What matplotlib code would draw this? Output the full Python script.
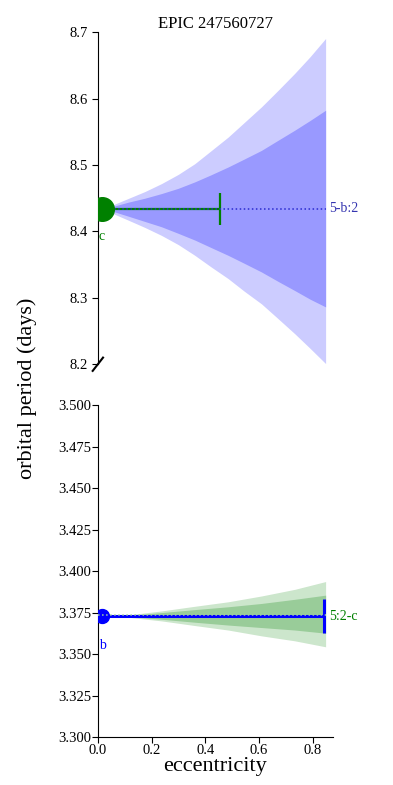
import matplotlib
matplotlib.use("Agg")
import matplotlib.pyplot as plt
import numpy as np

plt.rcParams["font.family"] = ["Liberation Serif", "DejaVu Serif"]

# outer planet c (top panel): period band
ecc_c = [0.0, 0.05, 0.113, 0.175, 0.237, 0.3, 0.361, 0.42, 0.485, 0.545,
         0.609, 0.67, 0.733, 0.79, 0.848]
c_outer_hi = [8.434, 8.439, 8.4496, 8.460, 8.472, 8.486, 8.502, 8.521, 8.542,
              8.564, 8.5875, 8.612, 8.638, 8.663, 8.6905]
c_inner_hi = [8.434, 8.437, 8.444, 8.450, 8.457, 8.465, 8.4746, 8.485, 8.497,
              8.509, 8.522, 8.537, 8.5524, 8.567, 8.5825]
c_inner_lo = [8.434, 8.431, 8.423, 8.415, 8.407, 8.397, 8.387, 8.376, 8.364,
              8.352, 8.339, 8.325, 8.311, 8.298, 8.2863]
c_outer_lo = [8.434, 8.428, 8.417, 8.406, 8.394, 8.380, 8.364, 8.347, 8.329,
              8.310, 8.291, 8.269, 8.246, 8.224, 8.201]
period_c = 8.434
ecc_c_max = 0.454
ecc_pt = 0.015

# inner planet b (bottom panel)
ecc_b = [0.0, 0.113, 0.237, 0.361, 0.485, 0.609, 0.733, 0.848]
b_outer_hi = [3.3729, 3.3736, 3.3760, 3.3788, 3.3815, 3.3850, 3.3890, 3.3937]
b_inner_hi = [3.3729, 3.3732, 3.3750, 3.3768, 3.3785, 3.3805, 3.3830, 3.3855]
b_inner_lo = [3.3729, 3.3726, 3.3710, 3.3692, 3.3675, 3.3660, 3.3645, 3.3626]
b_outer_lo = [3.3729, 3.3722, 3.3700, 3.3672, 3.3645, 3.3610, 3.3580, 3.3544]
period_b = 3.3729
ecc_b_max = 0.841

fig = plt.figure(figsize=(3.93, 7.85), dpi=100)
ax1 = fig.add_axes([0.249, 0.536, 0.598, 0.423])
ax2 = fig.add_axes([0.249, 0.061, 0.598, 0.423])

# --- top panel
ax1.fill_between(ecc_c, c_outer_lo, c_outer_hi, color="#ccccff", lw=0)
ax1.fill_between(ecc_c, c_inner_lo, c_inner_hi, color="#9999ff", lw=0)
eb = ax1.errorbar([0], [period_c], xerr=[[0], [ecc_c_max]], color="green",
                  lw=1.6, capsize=11.5, capthick=1.6)
eb[1][0].set_visible(False)
ax1.plot([ecc_pt], [period_c], "o", color="green", ms=17, zorder=5)
ax1.plot([0, ecc_c[-1]], [period_c - 0.0008] * 2, ls=":", color="#2a2ad0", lw=1.1)
ax1.text(ecc_c[-1] + 0.012, period_c, "5-b:2", color="#3535b0", fontsize=10,
         va="center", ha="left")
ax1.text(0.003, 8.392, "c", color="green", fontsize=10, va="center", ha="left")
ax1.set_xlim(0, 0.875)
ax1.set_ylim(8.2, 8.7)
ax1.set_yticks([8.2, 8.3, 8.4, 8.5, 8.6, 8.7])
ax1.set_yticklabels(["8.2", "8.3", "8.4", "8.5", "8.6", "8.7"])
ax1.set_xticks([])
for s in ["top", "right", "bottom"]:
    ax1.spines[s].set_visible(False)
ax1.tick_params(axis="y", direction="out", length=4, labelsize=10.5)
ax1.plot([-0.022, 0.022], [-0.02, 0.02], transform=ax1.transAxes,
         color="k", lw=1.5, clip_on=False)
ax1.set_title("EPIC 247560727", fontsize=12, pad=1)

# --- bottom panel
ax2.fill_between(ecc_b, b_outer_lo, b_outer_hi, color="#cce6cc", lw=0)
ax2.fill_between(ecc_b, b_inner_lo, b_inner_hi, color="#99cc99", lw=0)
eb = ax2.errorbar([0], [period_b], xerr=[[0], [ecc_b_max]], color="blue",
                  lw=2.2, capsize=12, capthick=2.2)
eb[1][0].set_visible(False)
ax2.plot([ecc_pt], [period_b], "o", color="blue", ms=10, zorder=5)
ax2.plot([0, ecc_b[-1]], [period_b + 0.0007] * 2, ls=":", color="#9fd09f", lw=1.1,
         zorder=6)
ax2.text(ecc_b[-1] + 0.012, period_b, "5:2-c", color="green", fontsize=10,
         va="center", ha="left")
ax2.text(0.005, 3.3554, "b", color="blue", fontsize=10, va="center", ha="left")
ax2.set_xlim(0, 0.875)
ax2.set_ylim(3.3, 3.5)
ax2.set_yticks(np.arange(3.3, 3.5001, 0.025))
ax2.set_yticklabels(["%.3f" % v for v in np.arange(3.3, 3.5001, 0.025)])
ax2.set_xticks([0.0, 0.2, 0.4, 0.6, 0.8])
ax2.set_xticklabels(["0.0", "0.2", "0.4", "0.6", "0.8"])
for s in ["top", "right"]:
    ax2.spines[s].set_visible(False)
ax2.tick_params(direction="out", length=4, labelsize=10.5, pad=1)
ax2.set_xlabel("eccentricity", fontsize=16, labelpad=0)

fig.text(0.07, 0.505, "orbital period (days)", rotation=90, fontsize=16,
         ha="center", va="center")

fig.savefig("out.png", dpi=100)
